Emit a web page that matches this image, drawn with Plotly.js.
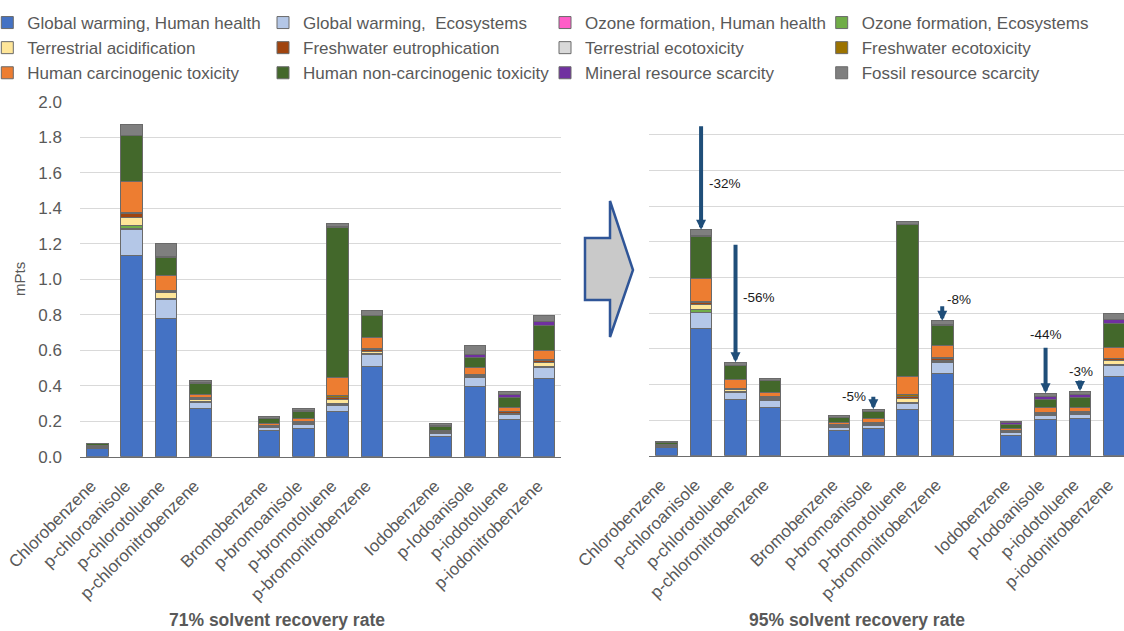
<!DOCTYPE html>
<html><head><meta charset="utf-8">
<script src="https://cdn.plot.ly/plotly-3.0.1.min.js"></script>
<style>html,body{margin:0;padding:0;overflow:hidden;background:#fff;width:1124px;height:631px}#chart{position:absolute;left:-30px;top:0;width:1164px;height:631px}</style>
</head><body><div id="chart"></div>
<script>
// ---------- categories ----------
const categories = ["Chlorobenzene","p-chloroanisole","p-chlorotoluene","p-chloronitrobenzene",
  "Bromobenzene","p-bromoanisole","p-bromotoluene","p-bromonitrobenzene",
  "Iodobenzene","p-Iodoanisole","p-iodotoluene","p-iodonitrobenzene"];
const axisCategories = ["Chlorobenzene","p-chloroanisole","p-chlorotoluene","p-chloronitrobenzene"," ",
  "Bromobenzene","p-bromoanisole","p-bromotoluene","p-bromonitrobenzene","  ",
  "Iodobenzene","p-Iodoanisole","p-iodotoluene","p-iodonitrobenzene"];
const seriesNames = ["Global warming, Human health","Global warming,  Ecosystems","Ozone formation, Human health","Ozone formation, Ecosystems",
  "Terrestrial acidification","Freshwater eutrophication","Terrestrial ecotoxicity","Freshwater ecotoxicity",
  "Human carcinogenic toxicity","Human non-carcinogenic toxicity","Mineral resource scarcity","Fossil resource scarcity"];
const yTicks = [0,0.2,0.4,0.6,0.8,1.0,1.2,1.4,1.6,1.8,2.0];
const yTitle = "mPts";
const panelTitles = ["71% solvent recovery rate","95% solvent recovery rate"];

// ---------- 71% solvent recovery (mPts) ----------
const gwHH71   = [0.045,1.131,0.780,0.272,0.147,0.160,0.257,0.507,0.113,0.394,0.212,0.441];
const gwEco71  = [0.005,0.150,0.103,0.034,0.016,0.020,0.034,0.066,0.015,0.051,0.027,0.060];
const ozHH71   = [0.000,0.002,0.001,0.001,0.001,0.001,0.001,0.001,0.001,0.001,0.001,0.001];
const ozEco71  = [0.001,0.017,0.009,0.004,0.002,0.002,0.005,0.006,0.002,0.003,0.002,0.005];
const terrAc71 = [0.002,0.050,0.030,0.012,0.005,0.004,0.026,0.012,0.004,0.006,0.004,0.026];
const fwEut71  = [0.004,0.018,0.010,0.007,0.004,0.006,0.010,0.010,0.005,0.007,0.006,0.010];
const terrEco71= [0.001,0.002,0.001,0.001,0.001,0.001,0.002,0.001,0.001,0.001,0.001,0.001];
const fwEco71  = [0.001,0.004,0.003,0.002,0.002,0.002,0.008,0.004,0.002,0.002,0.002,0.003];
const humCarc71= [0.004,0.175,0.083,0.018,0.010,0.020,0.102,0.064,0.006,0.036,0.023,0.054];
const humNon71 = [0.010,0.258,0.103,0.062,0.028,0.041,0.847,0.122,0.020,0.057,0.057,0.137];
const mineral71= [0.001,0.004,0.003,0.003,0.002,0.002,0.004,0.004,0.009,0.017,0.018,0.025];
const fossil71 = [0.003,0.058,0.076,0.012,0.011,0.012,0.019,0.026,0.010,0.050,0.017,0.035];

// ---------- 95% solvent recovery (mPts) ----------
const gwHH95   = [0.047,0.712,0.313,0.272,0.142,0.154,0.257,0.462,0.116,0.204,0.206,0.444];
const gwEco95  = [0.005,0.091,0.041,0.037,0.019,0.018,0.037,0.060,0.013,0.024,0.026,0.060];
const ozHH95   = [0.000,0.002,0.001,0.001,0.001,0.001,0.001,0.001,0.001,0.001,0.001,0.001];
const ozEco95  = [0.001,0.013,0.004,0.004,0.002,0.002,0.005,0.004,0.002,0.002,0.002,0.005];
const terrAc95 = [0.002,0.029,0.010,0.008,0.004,0.003,0.022,0.010,0.003,0.004,0.003,0.022];
const fwEut95  = [0.004,0.014,0.007,0.007,0.004,0.004,0.010,0.009,0.005,0.007,0.005,0.011];
const terrEco95= [0.001,0.001,0.001,0.001,0.001,0.001,0.002,0.001,0.001,0.001,0.001,0.001];
const fwEco95  = [0.001,0.003,0.002,0.002,0.002,0.002,0.008,0.003,0.002,0.002,0.002,0.003];
const humCarc95= [0.003,0.128,0.050,0.022,0.010,0.021,0.105,0.067,0.007,0.025,0.026,0.060];
const humNon95 = [0.011,0.237,0.075,0.066,0.030,0.041,0.848,0.116,0.026,0.048,0.056,0.133];
const mineral95= [0.001,0.003,0.002,0.002,0.002,0.002,0.004,0.004,0.008,0.013,0.017,0.026];
const fossil95 = [0.004,0.035,0.019,0.009,0.010,0.011,0.015,0.020,0.009,0.019,0.018,0.034];

// ---------- reduction annotations (95% panel) ----------
const arrowCategories = ["p-chloroanisole","p-chlorotoluene","p-bromoanisole","p-bromonitrobenzene","p-Iodoanisole","p-iodotoluene"];
const arrowLabels = ["-32%","-56%","-5%","-8%","-44%","-3%"];

// ---------- styling ----------
const seriesColors = ["#4472C4","#B4C7E7","#FF5DC8","#70AD47","#FFE699","#A0440F",
  "#D9D9D9","#9C7300","#ED7D31","#43682B","#7030A0","#7F7F7F"];
const series71 = [gwHH71,gwEco71,ozHH71,ozEco71,terrAc71,fwEut71,terrEco71,fwEco71,humCarc71,humNon71,mineral71,fossil71];
const series95 = [gwHH95,gwEco95,ozHH95,ozEco95,terrAc95,fwEut95,terrEco95,fwEco95,humCarc95,humNon95,mineral95,fossil95];
const OFF = 30;                 // figure is shifted 30px left of the page
const W = 1134 + OFF, H = 631;
const px = (x) => (x + OFF) / W;   // page pixel -> paper fraction
const py = (y) => 1 - y / H;
const FONT = "Liberation Sans, Arial, sans-serif";
const GREY = "#595959";
const legendIds = ["legend","legend2","legend3","legend4"];
const legendTextX = [27.3, 303, 585, 861.7];
// arrow geometry: tail length (px), label anchor, label offsets (px)
const arrowLen = [105, 119, 14, 16, 47, 12];
const labelAnchor = ["left","left","right","left","center","center"];
const labelDx = [6, 5, -5, 3, 0, 1];
const labelDy = [46, 65, 13, 21, 59, 20];

const traces = [];
seriesNames.forEach((name, i) => {
  traces.push({type:"bar", name:name, x:categories, y:series71[i], xaxis:"x", yaxis:"y",
    marker:{color:seriesColors[i], line:{color:"#6a6a6a", width:1}},
    legend: legendIds[i % 4], hoverinfo:"name+y"});
});
seriesNames.forEach((name, i) => {
  traces.push({type:"bar", name:name, x:categories, y:series95[i], xaxis:"x2", yaxis:"y2",
    marker:{color:seriesColors[i], line:{color:"#6a6a6a", width:1}},
    showlegend:false, hoverinfo:"name+y"});
});
// invisible carriers so the category-label axes get their categories
traces.push({type:"scatter", mode:"markers", x:categories, y:gwHH71, xaxis:"x3", yaxis:"y3",
  marker:{opacity:0, size:1}, showlegend:false, hoverinfo:"skip"});
traces.push({type:"scatter", mode:"markers", x:categories, y:gwHH95, xaxis:"x4", yaxis:"y4",
  marker:{opacity:0, size:1}, showlegend:false, hoverinfo:"skip"});

const totals95 = categories.map((c, j) => series95.reduce((s, arr) => s + arr[j], 0));

const annotations = [];
arrowCategories.forEach((cat, k) => {
  const j = categories.indexOf(cat);
  annotations.push({xref:"x2", yref:"y2", x:cat, y:totals95[j], text:"", showarrow:true,
    ax:0, ay:-arrowLen[k], arrowhead:2, arrowsize:0.5, arrowwidth:4, arrowcolor:"#1F4E79", standoff:0});
  annotations.push({xref:"x2", yref:"y2", x:cat, y:totals95[j], text:arrowLabels[k], showarrow:false,
    xanchor:labelAnchor[k], yanchor:"middle", xshift:labelDx[k], yshift:labelDy[k],
    font:{family:FONT, size:13.5, color:"#1a1a1a"}});
});
annotations.push({xref:"paper", yref:"paper", x:px(277), y:py(620), text:panelTitles[0], showarrow:false,
  xanchor:"center", yanchor:"middle", font:{family:FONT, size:17.5, color:GREY, weight:"bold"}});
annotations.push({xref:"paper", yref:"paper", x:px(857), y:py(620), text:panelTitles[1], showarrow:false,
  xanchor:"center", yanchor:"middle", font:{family:FONT, size:17.5, color:GREY, weight:"bold"}});
annotations.push({xref:"paper", yref:"paper", x:px(19), y:py(279), text:yTitle, showarrow:false, textangle:-90,
  xanchor:"center", yanchor:"middle", font:{family:FONT, size:15, color:GREY}});

// block arrow between panels (page pixel outline -> paper coords)
const arrowPts = [[585,238],[610,238],[610,201],[633,270],[610,337],[610,300],[585,300]];
const arrowPath = "M" + arrowPts.map(p => px(p[0]).toFixed(5) + "," + py(p[1]).toFixed(5)).join("L") + "Z";

const xBars = {type:"category", categoryorder:"array", categoryarray:axisCategories, range:[-0.5,13.5],
  showticklabels:false, showline:true, linecolor:"#6d6d6d", linewidth:1.5,
  ticks:"", showgrid:false, zeroline:false, fixedrange:true};
const xLabels = {type:"category", categoryorder:"array", categoryarray:axisCategories, range:[-0.5,13.5],
  tickangle:-45, tickfont:{family:FONT, size:17, color:GREY}, ticklabelstandoff:13,
  showline:false, ticks:"", showgrid:false, zeroline:false, fixedrange:true};
const yCommon = {range:[0,2], tickvals:yTicks, tickformat:".1f", gridcolor:"#d9d9d9", gridwidth:1,
  zeroline:false, showline:false, ticks:"", fixedrange:true};
const yHidden = {range:[0,2], showticklabels:false, showgrid:false, zeroline:false, showline:false, ticks:"", fixedrange:true};

const legendBase = (k) => ({orientation:"v", x:px(legendTextX[k]-40), xanchor:"left", y:py(5), yanchor:"top",
  traceorder:"normal", bgcolor:"rgba(0,0,0,0)", font:{family:FONT, size:17, color:GREY}, tracegroupgap:0,
  itemclick:false, itemdoubleclick:false});

const yDomL = [py(456.7), py(101.7)];
const yDomR = [py(455.7), py(99.3)];

const layout = {
  width:W, height:H, margin:{l:0, r:0, t:0, b:0}, paper_bgcolor:"#fff", plot_bgcolor:"rgba(0,0,0,0)",
  font:{family:FONT, color:GREY},
  barmode:"stack", bargap:0.37, showlegend:true,
  xaxis: Object.assign({}, xBars, {domain:[px(80), px(561)], anchor:"y"}),
  yaxis: Object.assign({}, yCommon, {domain:yDomL, anchor:"x",
    tickfont:{family:FONT, size:17, color:GREY}, ticklabelstandoff:17}),
  xaxis2: Object.assign({}, xBars, {domain:[px(649.4), px(1131.7)], anchor:"y2"}),
  yaxis2: Object.assign({}, yCommon, {domain:yDomR, anchor:"x2", showticklabels:false}),
  xaxis3: Object.assign({}, xLabels, {domain:[px(74), px(555)], anchor:"y3"}),
  yaxis3: Object.assign({}, yHidden, {domain:[py(458.7), py(101.7)], anchor:"x3"}),
  xaxis4: Object.assign({}, xLabels, {domain:[px(643.4), px(1125.7)], anchor:"y4"}),
  yaxis4: Object.assign({}, yHidden, {domain:[py(457.7), py(99.3)], anchor:"x4"}),
  legend: legendBase(0), legend2: legendBase(1), legend3: legendBase(2), legend4: legendBase(3),
  annotations: annotations,
  shapes:[{type:"path", xref:"paper", yref:"paper", path:arrowPath, fillcolor:"#C9C9C9",
    line:{color:"#2F5597", width:2.5}, layer:"above"}]
};

Plotly.newPlot("chart", traces, layout, {displayModeBar:false, staticPlot:true});
</script></body></html>
